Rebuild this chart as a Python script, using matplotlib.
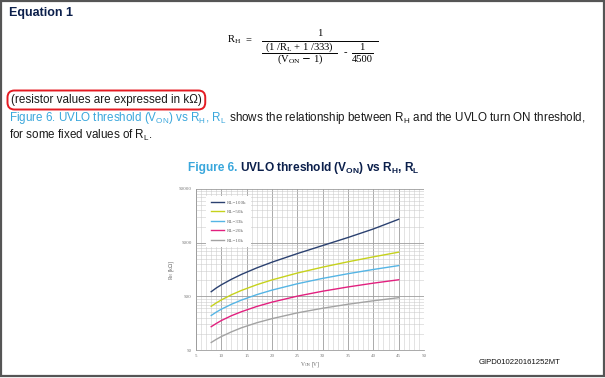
import matplotlib
matplotlib.use("Agg")
import matplotlib.pyplot as plt
from matplotlib.lines import Line2D
from matplotlib.patches import Rectangle
from matplotlib.ticker import FixedLocator, MultipleLocator, FixedFormatter

# values (V_ON in volts, R_H in kOhm)
v_on = [8, 9, 10, 12, 14, 17, 20, 25, 30, 35, 40, 45]
rh_100k = [610, 715, 820, 1040, 1285, 1695, 2165, 3130, 4420, 6240, 9000, 13640]
rh_50k = [326, 377, 428, 535, 646, 823, 1012, 1358, 1751, 2201, 2720, 3327]
rh_33k = [220, 254, 288, 356, 427, 538, 653, 858, 1080, 1320, 1583, 1870]
rh_20k = [136, 156, 177, 218, 259, 324, 390, 504, 623, 748, 880, 1018]
rh_10k = [69, 79, 89, 109, 130, 161, 192, 246, 300, 356, 413, 472]

labels = ["RL=100k", "RL=50k", "RL=33k", "RL=20k", "RL=10k"]
colors = ["#2b4170", "#c6d21c", "#55b5e5", "#e2207f", "#a3a3a3"]
y_ticks = [50, 500, 5000, 50000]
x_ticks = [5, 10, 15, 20, 25, 30, 35, 40, 45, 50]

W, H = 605, 378
ST_BLUE = "#3aa7dc"
ST_NAVY = "#0b1f4b"
SANS = "Liberation Sans"
SERIF = "Liberation Serif"


def fx(x):
    return x / W


def fy(y):
    return 1 - y / H


fig = plt.figure(figsize=(W / 100, H / 100), dpi=100)
rend = fig.canvas.get_renderer()


def put(x, y, s, **kw):
    kw.setdefault("va", "center")
    return fig.text(fx(x), fy(y), s, **kw)


def run(x, y, parts, **kw):
    # write coloured pieces one after the other on the same line
    for s, c in parts:
        t = put(x, y, s, color=c, **kw)
        x += t.get_window_extent(rend).width
    return x


def hline(x0, x1, y, lw=0.7, color="black"):
    fig.add_artist(Line2D([fx(x0), fx(x1)], [fy(y), fy(y)], transform=fig.transFigure,
                          color=color, lw=lw))


# page frame
fig.add_artist(Rectangle((fx(0.8), fy(375.8)), fx(603.6) - fx(0.8), fy(0.8) - fy(375.8),
                         transform=fig.transFigure, fill=False, ec="#555555", lw=1.6))

put(9, 13, "Equation 1", family=SANS, weight="bold", size=9, color=ST_NAVY)

# equation
eq = dict(family=SERIF, size=7.6, color="black", ha="center")
put(234, 40, r"R$_{\mathregular{H}}$", **eq)
put(248, 39.5, "=", **eq)
put(320, 33.5, "1", **eq)
hline(262, 378, 40.5)
put(299, 47, r"(1 /R$_{\mathregular{L}}$ + 1 /333)", **eq)
hline(262, 337, 53)
put(300, 59.5, r"(V$_{\mathregular{ON}}$ $-$ 1)", **eq)
put(345, 53, "-", **eq)
put(362, 47, "1", **eq)
hline(352, 373, 53)
put(362, 59.5, "4500", **eq)

# highlighted note
put(11, 100, "(resistor values are expressed in k\u03a9)", family=SANS, size=8.4, color="#1a1a1a",
    bbox=dict(boxstyle="round,pad=0.3,rounding_size=0.6", fc="none", ec="#e41b23", lw=1.4))

para = dict(family=SANS, size=8.4)
run(9, 117.5, [
    (r"Figure 6. UVLO threshold (V$_{\mathregular{ON}}$) vs R$_{\mathregular{H}}$, R$_{\mathregular{L}}$", ST_BLUE),
    (r" shows the relationship between R$_{\mathregular{H}}$ and the UVLO turn ON threshold,", "#1a1a1a"),
], **para)
put(9, 135, r"for some fixed values of R$_{\mathregular{L}}$.", color="#1a1a1a", **para)

# chart title
title_parts = [("Figure 6.", ST_BLUE),
               (r" UVLO threshold (V$_{\mathregular{ON}}$) vs R$_{\mathregular{H}}$, R$_{\mathregular{L}}$", ST_NAVY)]
tw = 0
for s, c in title_parts:
    t = fig.text(0, 0, s, family=SANS, weight="bold", size=8.6)
    tw += t.get_window_extent(rend).width
    t.remove()
run(304 - tw / 2, 168, title_parts, family=SANS, weight="bold", size=8.6)

put(520, 363, "GIPD010220161252MT", family=SANS, size=5.6, color="#111111", ha="center")

# chart
ax = fig.add_axes([fx(196), fy(350), fx(424) - fx(196), fy(189) - fy(350)])
series = [rh_100k, rh_50k, rh_33k, rh_20k, rh_10k]
for vals, lab, col in zip(series, labels, colors):
    ax.plot(v_on, vals, color=col, lw=1.0, label=lab, zorder=3)

ax.set_yscale("log")
ax.set_xlim(5, 50)
ax.set_ylim(50, 50000)
ax.xaxis.set_major_locator(FixedLocator(x_ticks))
ax.xaxis.set_minor_locator(MultipleLocator(1))
ax.yaxis.set_major_locator(FixedLocator(y_ticks))
ax.yaxis.set_major_formatter(FixedFormatter([str(v) for v in y_ticks]))
minor_y = [b * k for b in (50, 500, 5000) for k in range(2, 10)]
ax.yaxis.set_minor_locator(FixedLocator(minor_y))
ax.yaxis.set_minor_formatter(FixedFormatter([""] * len(minor_y)))
ax.grid(which="major", color="#9c9c9c", lw=0.6)
ax.grid(which="minor", color="#cdcdcd", lw=0.4)
ax.tick_params(which="both", length=0, labelsize=3.6, labelcolor="#777777", pad=3)
for lab in ax.get_xticklabels() + ax.get_yticklabels():
    lab.set_family(SERIF)
for side in ["top", "right"]:
    ax.spines[side].set_visible(False)
for side in ["left", "bottom"]:
    ax.spines[side].set_color("#9c9c9c")
    ax.spines[side].set_linewidth(0.6)

ax.set_xlabel(r"V$_{\mathregular{ON}}$ [V]", family=SERIF, size=4, color="#666666", labelpad=1.5)
ax.set_ylabel(r"R$_{\mathregular{H}}$ [k$\Omega$]", family=SERIF, size=4, color="#666666", labelpad=2)

leg = ax.legend(loc="upper left", bbox_to_anchor=(0.035, 0.975), prop=dict(family=SERIF, size=3.6),
                frameon=True, fancybox=False, edgecolor="none", facecolor="white", framealpha=1,
                handlelength=2.6, labelspacing=1.0, borderpad=0.9, handletextpad=0.5)
for txt in leg.get_texts():
    txt.set_color("#666666")

fig.savefig("out.png", dpi=100)
